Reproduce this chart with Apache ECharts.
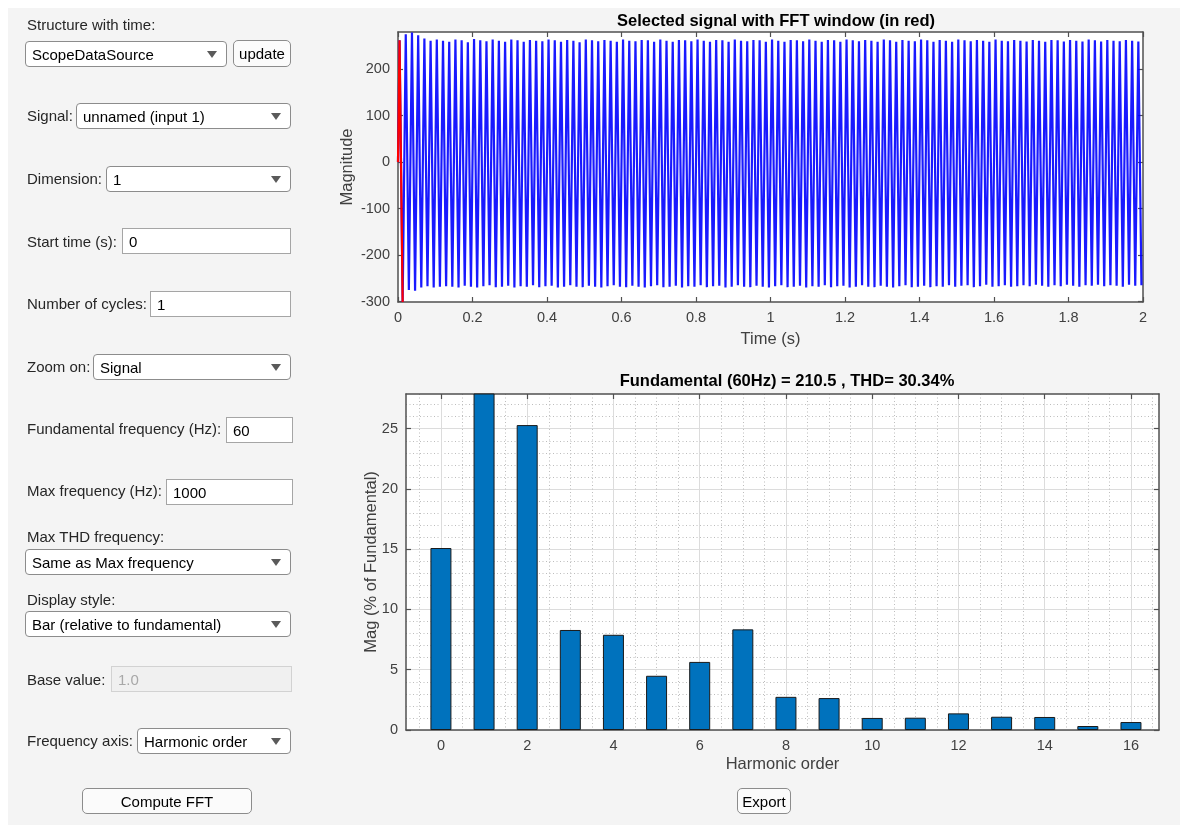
<!DOCTYPE html>
<html><head><meta charset="utf-8">
<script src="https://cdn.jsdelivr.net/npm/echarts@6/dist/echarts.min.js"></script>
<style>
html,body{margin:0;padding:0;background:#fff;width:1180px;height:825px;overflow:hidden;font-family:"Liberation Sans",Arial,sans-serif;}
#panel{position:absolute;left:8px;top:8px;width:1172px;height:817px;background:#f4f4f4;z-index:0;}
#chart{position:absolute;left:0;top:0;width:1180px;height:825px;z-index:1;}
#ui{position:absolute;left:0;top:0;width:1180px;height:825px;z-index:2;pointer-events:none;}
.lbl{position:absolute;font-size:15px;color:#262626;white-space:nowrap;line-height:18px;margin-top:-9px;}
.dd,.tb,.btn{position:absolute;box-sizing:border-box;font-size:15px;color:#000;white-space:nowrap;display:flex;align-items:center;}
.dd{background:#fff;border:1px solid #8c8c8c;border-radius:4px;padding-left:6px;}
.dd::after{content:"";position:absolute;right:9px;top:50%;margin-top:-3px;border-left:5px solid transparent;border-right:5px solid transparent;border-top:7px solid #5a5a5a;}
.tb{background:#fff;border:1px solid #a5a5a5;padding-left:6px;}
.tb.dis{background:#f0f0f0;border-color:#d2d2d2;color:#a8a8a8;}
.btn{background:#fbfbfb;border:1px solid #8c8c8c;border-radius:5px;justify-content:center;}
</style>
</head><body>
<div id="panel"></div>
<div id="chart"></div>
<div id="ui">
  <div class="lbl" style="left:27px;top:25px">Structure with time:</div>
  <div class="dd" style="left:25px;top:41px;width:202px;height:26px">ScopeDataSource</div>
  <div class="btn" style="left:233px;top:40px;width:58px;height:27px">update</div>
  <div class="lbl" style="left:27px;top:116px">Signal:</div>
  <div class="dd" style="left:76px;top:103px;width:215px;height:26px">unnamed (input 1)</div>
  <div class="lbl" style="left:27px;top:179px">Dimension:</div>
  <div class="dd" style="left:106px;top:166px;width:185px;height:26px">1</div>
  <div class="lbl" style="left:27px;top:242px">Start time (s):</div>
  <div class="tb" style="left:122px;top:228px;width:169px;height:26px">0</div>
  <div class="lbl" style="left:27px;top:304px">Number of cycles:</div>
  <div class="tb" style="left:150px;top:291px;width:141px;height:26px">1</div>
  <div class="lbl" style="left:27px;top:367px">Zoom on:</div>
  <div class="dd" style="left:93px;top:354px;width:198px;height:26px">Signal</div>
  <div class="lbl" style="left:27px;top:429px">Fundamental frequency (Hz):</div>
  <div class="tb" style="left:226px;top:417px;width:67px;height:26px">60</div>
  <div class="lbl" style="left:27px;top:491px">Max frequency (Hz):</div>
  <div class="tb" style="left:166px;top:479px;width:127px;height:26px">1000</div>
  <div class="lbl" style="left:27px;top:537px">Max THD frequency:</div>
  <div class="dd" style="left:25px;top:549px;width:266px;height:26px">Same as Max frequency</div>
  <div class="lbl" style="left:27px;top:600px">Display style:</div>
  <div class="dd" style="left:25px;top:611px;width:266px;height:26px">Bar (relative to fundamental)</div>
  <div class="lbl" style="left:27px;top:680px">Base value:</div>
  <div class="tb dis" style="left:111px;top:666px;width:181px;height:26px">1.0</div>
  <div class="lbl" style="left:27px;top:741px">Frequency axis:</div>
  <div class="dd" style="left:137px;top:728px;width:154px;height:26px">Harmonic order</div>
  <div class="btn" style="left:82px;top:788px;width:170px;height:26px">Compute FFT</div>
  <div class="btn" style="left:737px;top:788px;width:54px;height:26px">Export</div>
</div>
<script>
// ---------- data ----------
const FUNDAMENTAL_HZ = 60;
const TIME_TICKS = [0, 0.2, 0.4, 0.6, 0.8, 1, 1.2, 1.4, 1.6, 1.8, 2];
const MAG_TICKS = [-300, -200, -100, 0, 100, 200];
// peak / trough value of each 60 Hz cycle of the signal
const signalPeaks = [
  262, 275, 279, 273, 266, 261, 264, 261, 259, 264,
  262, 258, 265, 262, 260, 264, 261, 259, 264, 262,
  259, 263, 261, 260, 264, 262, 259, 263, 261, 258,
  264, 262, 260, 263, 261, 259, 264, 261, 260, 263,
  262, 259, 264, 261, 259, 263, 262, 260, 264, 261,
  259, 263, 262, 259, 264, 261, 260, 263, 262, 259,
  264, 261, 259, 263, 262, 260, 264, 261, 259, 263,
  262, 259, 264, 262, 260, 263, 261, 259, 264, 262,
  259, 263, 261, 260, 264, 262, 259, 263, 261, 259,
  264, 262, 260, 263, 261, 259, 264, 261, 260, 263,
  261, 259.5, 263, 261, 259, 263, 262, 259.5, 263, 261,
  259.5, 264, 262, 259.5, 263, 261, 260, 263, 261, 259.5
];
const signalTroughs = [
  -301, -275, -277, -270, -267, -270, -268, -267, -268, -270,
  -266, -268, -270, -267, -265, -269, -268, -266, -270, -267,
  -268, -265, -269, -267, -266, -270, -268, -265, -268, -269,
  -266, -268, -270, -267, -265, -268, -269, -266, -268, -270,
  -267, -265, -269, -268, -266, -270, -267, -268, -265, -269,
  -267, -266, -270, -268, -265, -268, -269, -266, -268, -270,
  -267, -265, -269, -268, -266, -270, -267, -268, -265, -269,
  -267, -266, -270, -268, -265, -268, -269, -266, -268, -270,
  -267, -265, -269, -268, -266, -269, -267, -268, -265, -268,
  -266, -265, -269, -267, -264, -268, -267, -265, -268, -267,
  -265, -267, -264, -266, -268, -265, -267, -264, -266, -268,
  -265, -266, -264, -267, -265, -266, -268, -264, -266, -265
];
const signalStart = 0;          // value at t = 0
const fftWindowCycles = 1;      // red window = first cycle

const HARMONIC_TICKS = [0, 2, 4, 6, 8, 10, 12, 14, 16];
const PCT_TICKS = [0, 5, 10, 15, 20, 25];
const harmonicOrder = [0, 1, 2, 3, 4, 5, 6, 7, 8, 9, 10, 11, 12, 13, 14, 15, 16];
const harmonicMag = [15.1, 100, 25.3, 8.3, 7.9, 4.5, 5.65, 8.35, 2.75, 2.65, 1.0, 1.02, 1.38, 1.1, 1.08, 0.33, 0.66];

const TITLE_TOP = 'Selected signal with FFT window (in red)';
const TITLE_BOTTOM = 'Fundamental (60Hz) = 210.5 , THD= 30.34%';

// ---------- build series ----------
const T = 1 / FUNDAMENTAL_HZ;
const signal = [[0, signalStart]];
const windowPts = [[0, signalStart]];
for (let k = 0; k < signalPeaks.length; k++) {
  const p = [(k + 0.25) * T, signalPeaks[k]];
  const q = [(k + 0.75) * T, signalTroughs[k]];
  signal.push(p, q);
  if (k < fftWindowCycles) windowPts.push(p, q);
}
const bars = harmonicOrder.map((h, i) => [h, harmonicMag[i]]);

// minor grid positions (style only)
const xMinor = [], yMinor = [];
for (let v = -0.5; v <= 16.5; v += 0.5) if (Math.abs(v % 2) > 1e-9) xMinor.push(v);
for (let v = 1; v <= 27; v++) if (v % 5 !== 0) yMinor.push(v);

// ---------- styling ----------
const FONT = '"Liberation Sans", Arial, Helvetica, sans-serif';
const AX = '#505050';
function ax(o) {
  const base = {
    type: 'value', scale: true,
    axisLine: {show: true, onZero: false, lineStyle: {color: AX, width: 1.5}},
    axisTick: {show: true, inside: true, length: 5, lineStyle: {color: AX, width: 1.2}},
    axisLabel: {show: true, color: '#404040', fontSize: 14.5, fontFamily: FONT, margin: 8},
    splitLine: {show: false},
    nameTextStyle: {color: '#404040', fontSize: 16.5, fontFamily: FONT},
    nameLocation: 'middle',
    nameMoveOverlap: false
  };
  for (const k in o) {
    if (typeof o[k] === 'object' && !Array.isArray(o[k]) && base[k]) base[k] = Object.assign({}, base[k], o[k]);
    else base[k] = o[k];
  }
  return base;
}
const majorGrid = {show: true, lineStyle: {color: '#dcdcdc', width: 1, type: 'solid'}};
const minorGrid = {show: true, lineStyle: {color: '#bdbdbd', width: 1, type: [1, 2.5]}};

const chart = echarts.init(document.getElementById('chart'), null, {renderer: 'canvas'});
chart.setOption({
  animation: false,
  backgroundColor: 'transparent',
  title: [
    {text: TITLE_TOP, left: 771, top: 8, textAlign: 'center',
     textStyle: {fontSize: 16.5, fontWeight: 'bold', color: '#000', fontFamily: FONT}},
    {text: TITLE_BOTTOM, left: 782, top: 368, textAlign: 'center',
     textStyle: {fontSize: 16.5, fontWeight: 'bold', color: '#000', fontFamily: FONT}}
  ],
  grid: [
    {left: 398, top: 32, width: 745, height: 270, backgroundColor: '#fff', show: true, borderWidth: 0},
    {left: 406, top: 394, width: 753, height: 336, backgroundColor: '#fff', show: true, borderWidth: 0}
  ],
  xAxis: [
    ax({gridIndex: 0, position: 'bottom', min: 0, max: 2,
        axisTick: {customValues: TIME_TICKS}, axisLabel: {customValues: TIME_TICKS},
        name: 'Time (s)', nameGap: 29}),
    ax({gridIndex: 0, position: 'top', min: 0, max: 2,
        axisTick: {customValues: TIME_TICKS}, axisLabel: {show: false}}),
    ax({gridIndex: 1, position: 'bottom', min: -0.81, max: 16.65,
        axisTick: {customValues: HARMONIC_TICKS}, axisLabel: {customValues: HARMONIC_TICKS},
        splitLine: majorGrid, name: 'Harmonic order', nameGap: 26}),
    ax({gridIndex: 1, position: 'top', min: -0.81, max: 16.65,
        axisTick: {customValues: HARMONIC_TICKS}, axisLabel: {show: false}}),
    ax({gridIndex: 1, position: 'top', min: -0.81, max: 16.65,
        axisLine: {show: false}, axisTick: {show: false, customValues: xMinor},
        axisLabel: {show: false}, splitLine: minorGrid})
  ],
  yAxis: [
    ax({gridIndex: 0, position: 'left', min: -301, max: 280,
        axisTick: {customValues: MAG_TICKS}, axisLabel: {customValues: MAG_TICKS},
        name: 'Magnitude', nameGap: 42}),
    ax({gridIndex: 0, position: 'right', min: -301, max: 280,
        axisTick: {customValues: MAG_TICKS}, axisLabel: {show: false}}),
    ax({gridIndex: 1, position: 'left', min: 0, max: 27.88,
        axisTick: {customValues: PCT_TICKS}, axisLabel: {customValues: PCT_TICKS},
        splitLine: majorGrid, name: 'Mag (% of Fundamental)', nameGap: 26}),
    ax({gridIndex: 1, position: 'right', min: 0, max: 27.88,
        axisTick: {customValues: PCT_TICKS}, axisLabel: {show: false}}),
    ax({gridIndex: 1, position: 'right', min: 0, max: 27.88,
        axisLine: {show: false}, axisTick: {show: false, customValues: yMinor},
        axisLabel: {show: false}, splitLine: minorGrid})
  ],
  series: [
    {type: 'line', xAxisIndex: 0, yAxisIndex: 0, data: signal, showSymbol: false, symbol: 'none',
     clip: true, lineStyle: {color: '#0000ff', width: 2.2, opacity: 0.9}, z: 2},
    {type: 'line', xAxisIndex: 0, yAxisIndex: 0, data: windowPts, showSymbol: false, symbol: 'none',
     clip: true, lineStyle: {color: '#ff0000', width: 2.2}, z: 3},
    {type: 'bar', xAxisIndex: 2, yAxisIndex: 2, data: bars, barWidth: 21, clip: true,
     itemStyle: {color: '#0072bd', borderColor: '#1a1a1a', borderWidth: 1}, z: 2}
  ]
});
</script>
</body></html>
